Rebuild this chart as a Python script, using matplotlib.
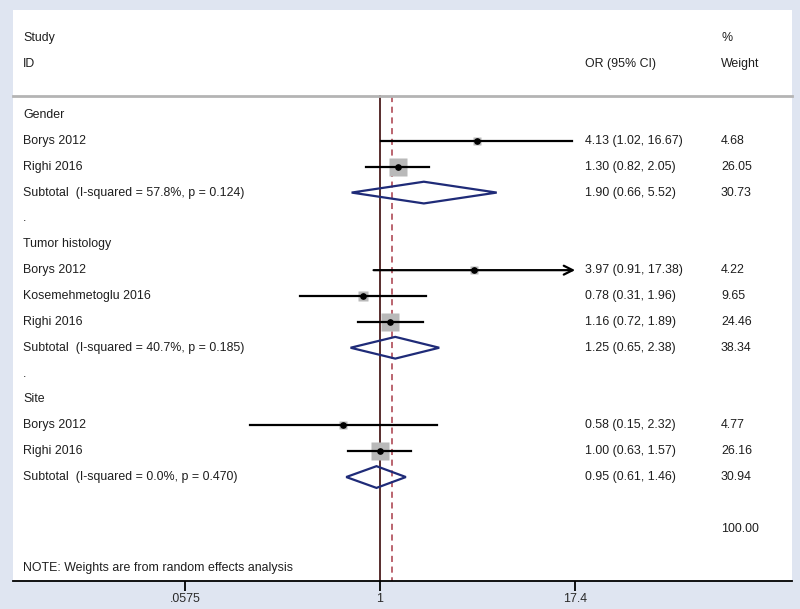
import numpy as np
import matplotlib.pyplot as plt
from matplotlib.patches import Polygon
from matplotlib.transforms import blended_transform_factory

plt.rcParams['font.family'] = ['Liberation Sans', 'DejaVu Sans']

# data
groups = ["Gender", "Tumor histology", "Site"]
study_names = [["Borys 2012", "Righi 2016"],
               ["Borys 2012", "Kosemehmetoglu 2016", "Righi 2016"],
               ["Borys 2012", "Righi 2016"]]
study_or = [[4.13, 1.30], [3.97, 0.78, 1.16], [0.58, 1.00]]
study_lo = [[1.02, 0.82], [0.91, 0.31, 0.72], [0.15, 0.63]]
study_hi = [[16.67, 2.05], [17.38, 1.96, 1.89], [2.32, 1.57]]
study_w = [[4.68, 26.05], [4.22, 9.65, 24.46], [4.77, 26.16]]
sub_or = [1.90, 1.25, 0.95]
sub_lo = [0.66, 0.65, 0.61]
sub_hi = [5.52, 2.38, 1.46]
sub_w = [30.73, 38.34, 30.94]
sub_i2 = [57.8, 40.7, 0.0]
sub_p = [0.124, 0.185, 0.470]
overall_w = 100.00
overall_or = 1.19
xticks = [0.0575, 1, 17.4]
xticklabels = [".0575", "1", "17.4"]

bg = '#dfe5f1'
txt = '#1e1e1e'
fs = 8.95

fig = plt.figure(figsize=(8, 6.09), dpi=100, facecolor=bg)
W, H = 800, 609
x0, x1, ytop, ybot = 13, 792, 10, 581
ax = fig.add_axes([x0 / W, 1 - ybot / H, (x1 - x0) / W, (ybot - ytop) / H])
ax.set_facecolor('white')
ax.set_xscale('log')
ppd = 157.3
ax.set_xlim(10 ** ((x0 - 380) / ppd), 10 ** ((x1 - 380) / ppd))
row_px = 25.86
ax.set_ylim((ybot - 115) / row_px, (ytop - 115) / row_px)

for s in ['top', 'left', 'right']:
    ax.spines[s].set_visible(False)
ax.spines['bottom'].set_linewidth(1.3)
ax.set_yticks([])
ax.set_xticks(xticks)
ax.set_xticklabels(xticklabels, fontsize=fs, color='#2a2a2a')
ax.xaxis.set_minor_locator(plt.NullLocator())
ax.tick_params(axis='x', length=7, width=1.3, direction='out', pad=2)

tr = blended_transform_factory(ax.transAxes, ax.transData)
def fx(px):
    return (px - x0) / (x1 - x0)

lab_x, or_x, w_x = fx(23), fx(585), fx(721)

# header
ax.text(lab_x, (38 - 115) / row_px, "Study", transform=tr, fontsize=fs, color=txt, va='center')
ax.text(lab_x, (64 - 115) / row_px, "ID", transform=tr, fontsize=fs, color=txt, va='center')
ax.text(w_x, (38 - 115) / row_px, "%", transform=tr, fontsize=fs, color=txt, va='center')
ax.text(w_x, (64 - 115) / row_px, "Weight", transform=tr, fontsize=fs, color=txt, va='center')
ax.text(or_x, (64 - 115) / row_px, "OR (95% CI)", transform=tr, fontsize=fs, color=txt, va='center')
sep_y = (96 - 115) / row_px
ax.plot([0, 1], [sep_y, sep_y], transform=tr, color='#b4b4b4', lw=2, clip_on=False)

ymax = (ybot - 115) / row_px
ax.plot([1, 1], [sep_y, ymax], color='#4a1c1c', lw=1.3, zorder=1)
ax.plot([overall_or, overall_or], [sep_y, ymax], color='#a83a48', lw=1.1,
        ls=(0, (4, 3)), zorder=1)

xmax_lim = xticks[-1]
row = 0
for g in range(len(groups)):
    ax.text(lab_x, row, groups[g], transform=tr, fontsize=fs, color=txt, va='center')
    row += 1
    for j, name in enumerate(study_names[g]):
        o, lo, hi, w = study_or[g][j], study_lo[g][j], study_hi[g][j], study_w[g][j]
        side = 3.53 * np.sqrt(w) * 0.72
        ax.plot(o, row, marker='s', ms=side, color='#b9b9b9', mec='none', zorder=2)
        if hi >= xmax_lim * 0.99:
            ax.annotate('', xy=(xmax_lim, row), xytext=(lo, row),
                        arrowprops=dict(arrowstyle='->', lw=1.6, color='black',
                                        mutation_scale=16, shrinkA=0, shrinkB=0), zorder=3)
        else:
            ax.plot([lo, hi], [row, row], color='black', lw=1.6, zorder=3)
        ax.plot(o, row, marker='o', ms=3.8, color='black', zorder=4)
        ax.text(lab_x, row, name, transform=tr, fontsize=fs, color=txt, va='center')
        ax.text(or_x, row, f"{o:.2f} ({lo:.2f}, {hi:.2f})", transform=tr,
                fontsize=fs, color=txt, va='center')
        ax.text(w_x, row, f"{w:.2f}", transform=tr, fontsize=fs, color=txt, va='center')
        row += 1
    hh = 0.42
    dia = Polygon([(sub_lo[g], row), (sub_or[g], row - hh), (sub_hi[g], row),
                   (sub_or[g], row + hh)], closed=True, fill=False,
                  ec='#1f2b78', lw=1.6, zorder=3)
    ax.add_patch(dia)
    ax.text(lab_x, row, f"Subtotal  (I-squared = {sub_i2[g]:.1f}%, p = {sub_p[g]:.3f})",
            transform=tr, fontsize=fs, color=txt, va='center')
    ax.text(or_x, row, f"{sub_or[g]:.2f} ({sub_lo[g]:.2f}, {sub_hi[g]:.2f})",
            transform=tr, fontsize=fs, color=txt, va='center')
    ax.text(w_x, row, f"{sub_w[g]:.2f}", transform=tr, fontsize=fs, color=txt, va='center')
    row += 1
    if g < len(groups) - 1:
        ax.text(lab_x, row, ".", transform=tr, fontsize=fs, color=txt, va='center')
    row += 1

# overall row (label removed in original)
ax.text(w_x, row, f"{overall_w:.2f}", transform=tr, fontsize=fs, color=txt, va='center')
ax.text(lab_x, (568 - 115) / row_px, "NOTE: Weights are from random effects analysis",
        transform=tr, fontsize=fs, color=txt, va='center')

fig.savefig('out.png', dpi=100, facecolor=bg)
